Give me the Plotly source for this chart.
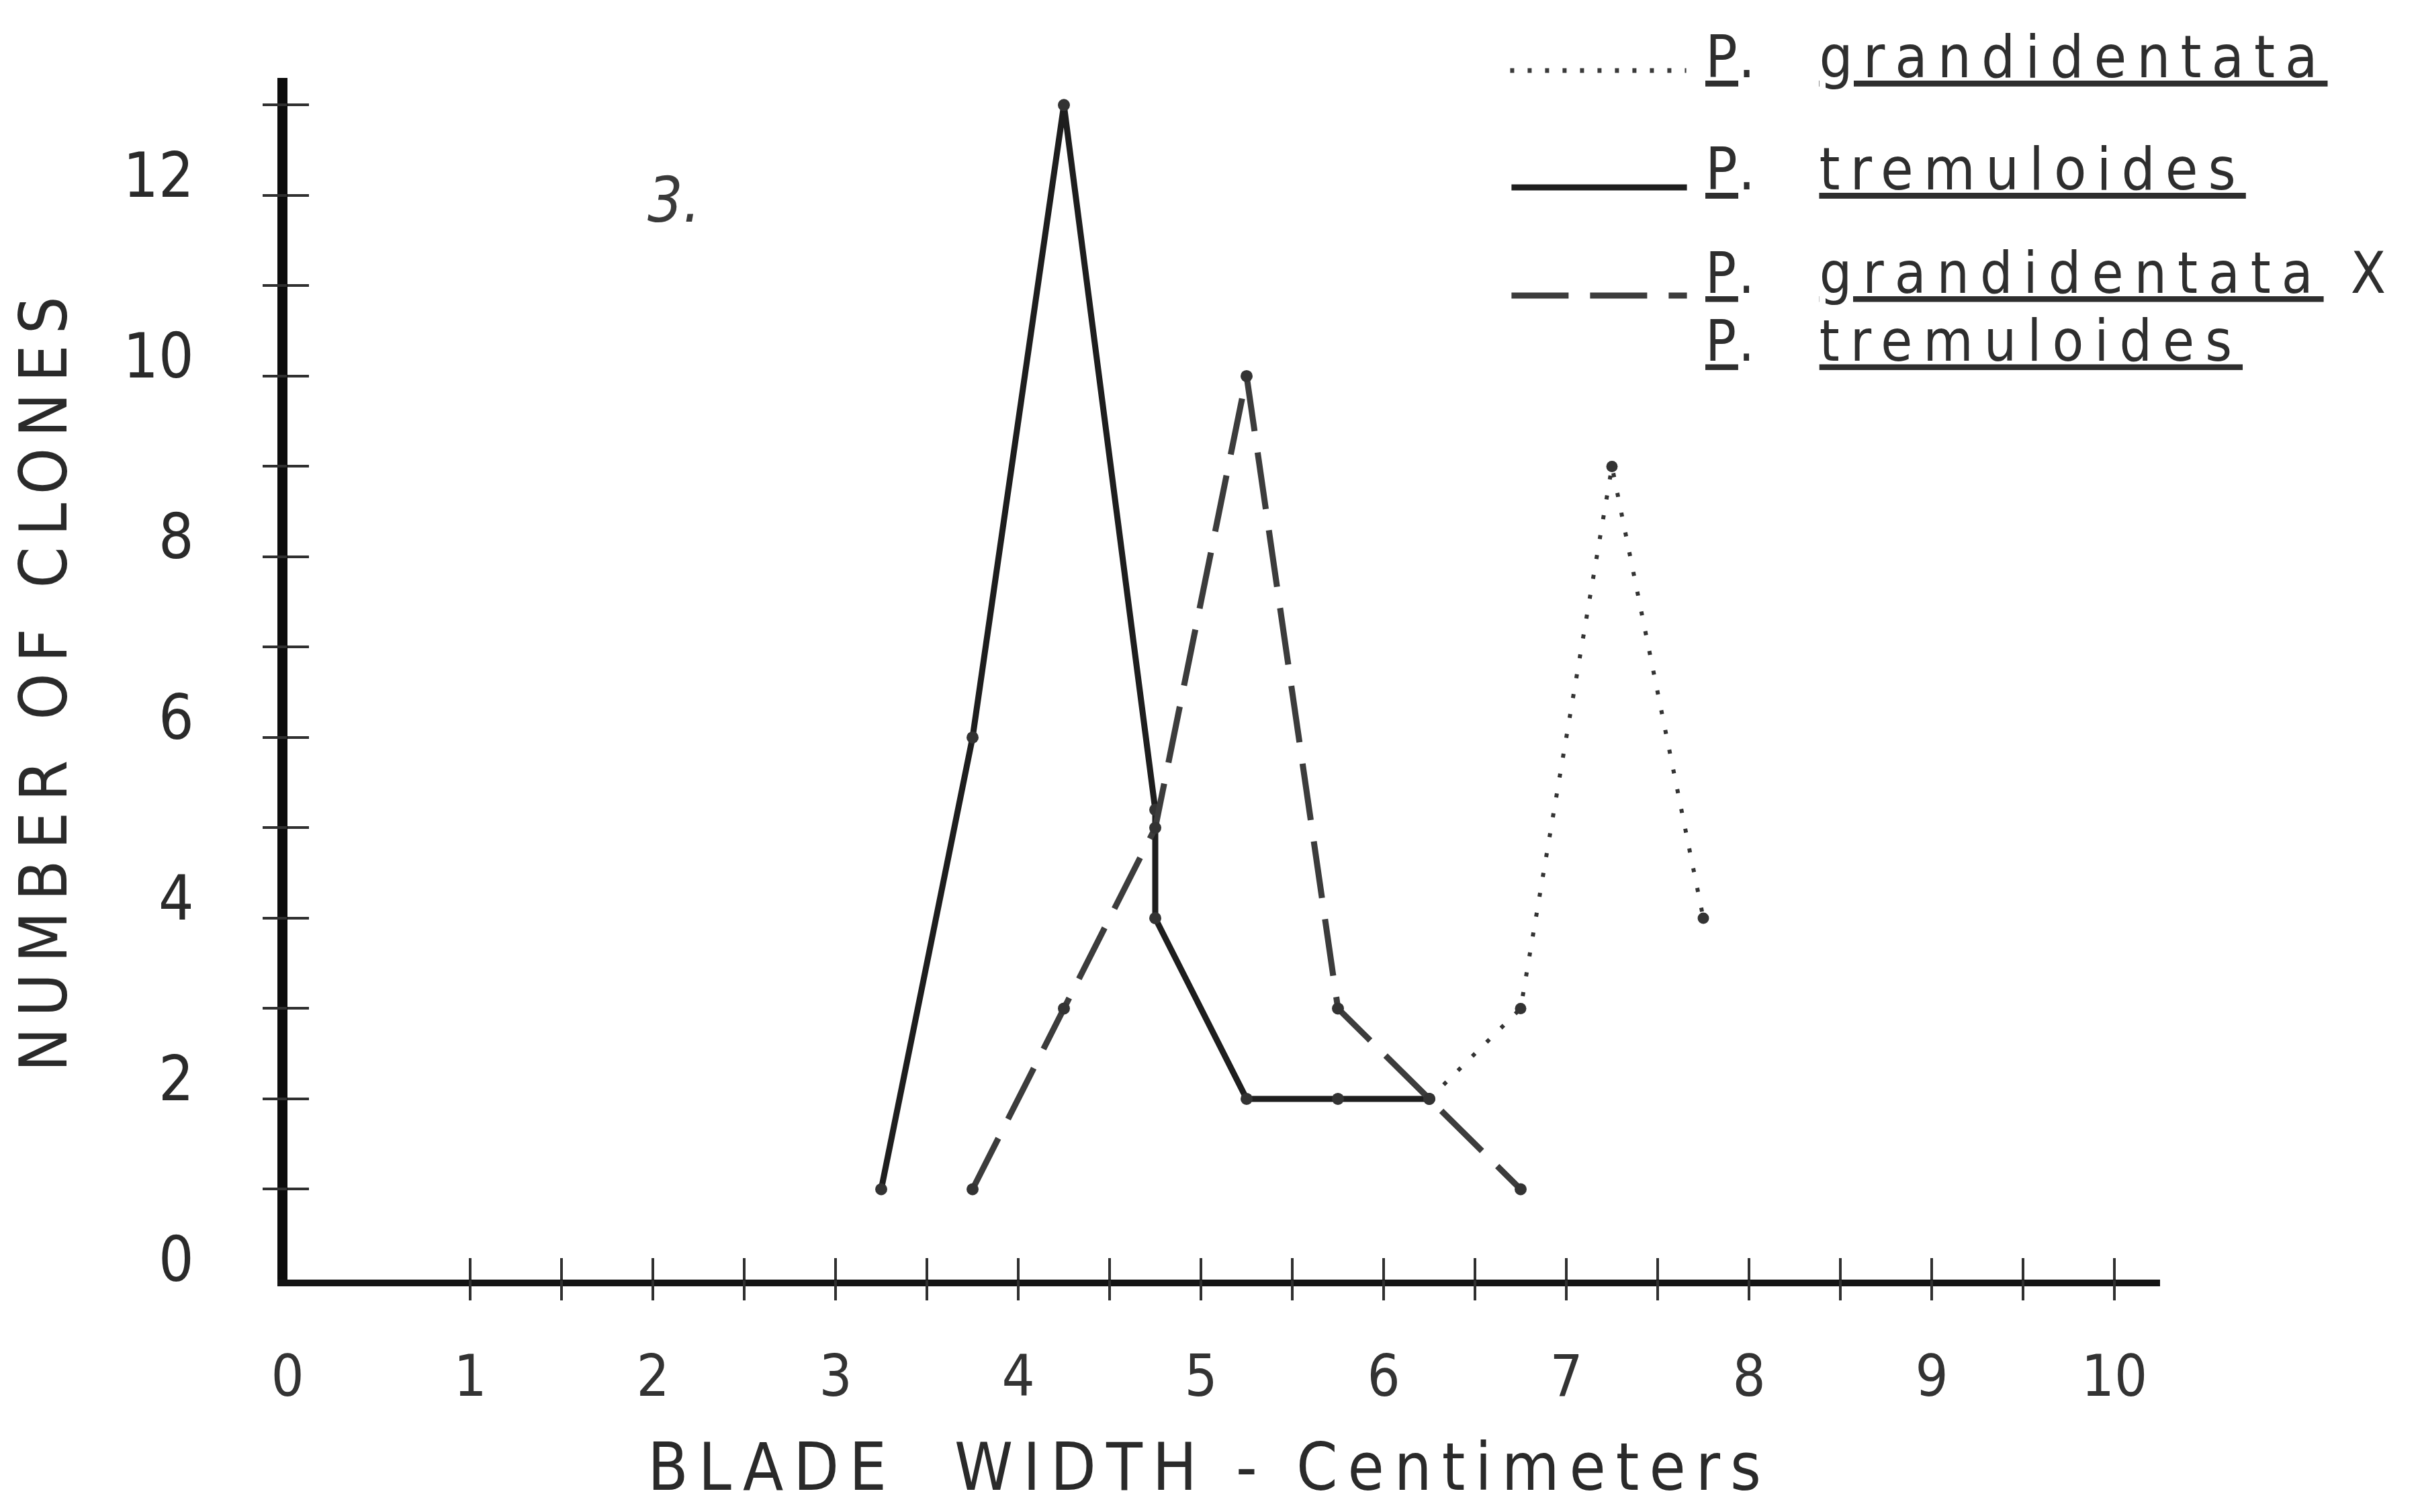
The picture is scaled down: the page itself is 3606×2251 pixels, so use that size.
import plotly.graph_objects as go

# ---------------- data ----------------
grandidentata_x = [6.25, 6.75, 7.25, 7.75]
grandidentata_y = [2, 3, 9, 4]

tremuloides_x = [3.25, 3.75, 4.25, 4.75, 4.75, 5.25, 5.75, 6.25]
tremuloides_y = [1, 6, 13, 5.2, 4, 2, 2, 2]

hybrid_x = [3.75, 4.25, 4.75, 5.25, 5.75, 6.25, 6.75]
hybrid_y = [1, 3, 5, 10, 3, 2, 1]

x_label_vals = [0, 1, 2, 3, 4, 5, 6, 7, 8, 9, 10]
x_label_text = ["0", "1", "2", "3", "4", "5", "6", "7", "8", "9", "10"]
x_tick_marks = [1, 1.5, 2, 2.5, 3, 3.5, 4, 4.5, 5, 5.5, 6, 6.5, 7, 7.5, 8, 8.5, 9, 9.5, 10]
y_label_vals = [0, 2, 4, 6, 8, 10, 12]
y_label_text = ["0", "2", "4", "6", "8", "10", "12"]
y_tick_marks = [1, 2, 3, 4, 5, 6, 7, 8, 9, 10, 11, 12, 13]

legend_line1 = "<u>P</u>.\u00a0\u00a0<u>grandidentata</u>"
legend_line2 = "<u>P</u>.\u00a0\u00a0<u>tremuloides</u>"
legend_line3 = ["<u>P</u>.\u00a0\u00a0<u>grandidentata</u> X", "<u>P</u>.\u00a0\u00a0<u>tremuloides</u>"]

# ---------------- geometry (pixels of the 3606x2251 page) ----------------
W, H = 3606, 2251
L, R, T, B = 390, 398, 108, 354
PW, PH = W - L - R, H - T - B
X_RANGE = [0, 10.25]
Y_RANGE = [0, 13.3]

def px(x):
    return (x - L) / PW

def py(y):
    return (H - B - y) / PH

FONT = "Liberation Sans Narrow, DejaVu Sans Condensed, Roboto Condensed, Lato, sans-serif"
INK = "#262626"

fig = go.Figure()

fig.add_trace(go.Scatter(
    x=grandidentata_x, y=grandidentata_y, mode="lines+markers",
    line=dict(color="#333333", width=6, dash="6px,24px"),
    marker=dict(color="#333333", size=17), name="P. grandidentata", showlegend=False))
fig.add_trace(go.Scatter(
    x=tremuloides_x, y=tremuloides_y, mode="lines+markers",
    line=dict(color="#1e1e1e", width=9),
    marker=dict(color="#333333", size=18), name="P. tremuloides", showlegend=False))
fig.add_trace(go.Scatter(
    x=hybrid_x, y=hybrid_y, mode="lines+markers",
    line=dict(color="#3c3c3c", width=9, dash="85px,32px"),
    marker=dict(color="#333333", size=18), name="P. grandidentata X P. tremuloides",
    showlegend=False))

# invisible traces for tick overlay axes
fig.add_trace(go.Scatter(x=[None], y=[None], xaxis="x2", yaxis="y2", showlegend=False))
fig.add_trace(go.Scatter(x=[None], y=[None], xaxis="x3", yaxis="y3", showlegend=False))

common = dict(showgrid=False, zeroline=False, fixedrange=True)

fig.update_layout(
    width=W, height=H, autosize=False,
    margin=dict(l=L, r=R, t=T, b=B, pad=0),
    paper_bgcolor="white", plot_bgcolor="white",
    font=dict(family=FONT, color=INK),
    xaxis=dict(range=X_RANGE, showline=True, linewidth=10, linecolor="#141414",
               ticks="", tickvals=x_label_vals, ticktext=x_label_text,
               tickfont=dict(size=86, color="#333333"), ticklabelstandoff=60,
               title=dict(text='<span style="letter-spacing:15px">BLADE\u00a0\u00a0WIDTH - Centimeters\u00a0</span>',
                          font=dict(size=98, color="#2a2a2a"), standoff=56),
               **common),
    yaxis=dict(range=Y_RANGE, showline=True, linewidth=15, linecolor="#0c0c0c",
               ticks="", tickvals=y_label_vals, ticktext=y_label_text,
               tickfont=dict(size=92, color="#2a2a2a"), ticklabelstandoff=106,
               ticklabelshift=-30,
               title=dict(text='<span style="letter-spacing:16px">NUMBER OF CLONES</span>',
                          font=dict(size=98, color="#2a2a2a"), standoff=95),
               **common),
    xaxis2=dict(range=X_RANGE, overlaying="x", anchor="y2", showline=False,
                ticks="outside", ticklen=30, tickwidth=4, tickcolor="#303030",
                tickvals=x_tick_marks, showticklabels=False, **common),
    yaxis2=dict(range=Y_RANGE, overlaying="y", anchor="x2", showline=False,
                ticks="outside", ticklen=36, tickwidth=4, tickcolor="#303030",
                tickvals=y_tick_marks, showticklabels=False, **common),
    xaxis3=dict(range=X_RANGE, overlaying="x", anchor="y3", showline=False,
                ticks="inside", ticklen=32, tickwidth=4, tickcolor="#303030",
                tickvals=x_tick_marks, showticklabels=False, **common),
    yaxis3=dict(range=Y_RANGE, overlaying="y", anchor="x3", showline=False,
                ticks="inside", ticklen=32, tickwidth=4, tickcolor="#303030",
                tickvals=y_tick_marks, showticklabels=False, **common),
)

# figure number
fig.add_annotation(x=px(972), y=py(290), xref="paper", yref="paper", text="<i>3.</i>",
                   xanchor="center", yanchor="middle",
                   showarrow=False, font=dict(size=92, color="#3a3a3a", family=FONT))

# legend samples
fig.add_shape(type="line", xref="paper", yref="paper", x0=px(2230), x1=px(2495),
              y0=py(97), y1=py(97), line=dict(color="#3a3a3a", width=7, dash="6px,20px"))
fig.add_shape(type="line", xref="paper", yref="paper", x0=px(2232), x1=px(2496),
              y0=py(271), y1=py(271), line=dict(color="#1e1e1e", width=9))
fig.add_shape(type="line", xref="paper", yref="paper", x0=px(2232), x1=px(2496),
              y0=py(432), y1=py(432), line=dict(color="#3c3c3c", width=9, dash="85px,32px"))

SPAN = '<span style="letter-spacing:15px;font-size:88px">'
fig.add_annotation(x=px(2522), y=py(76), xref="paper", yref="paper",
                   xanchor="left", yanchor="middle", showarrow=False,
                   text=SPAN + legend_line1 + "</span>",
                   font=dict(size=88, color="#2e2e2e", family=FONT))
fig.add_annotation(x=px(2522), y=py(244), xref="paper", yref="paper",
                   xanchor="left", yanchor="middle", showarrow=False,
                   text=SPAN + legend_line2 + "</span>",
                   font=dict(size=88, color="#2e2e2e", family=FONT))
# two-line entry: base font sets the (tight) line spacing, span sets glyph size
SPAN2 = '<span style="letter-spacing:16px;font-size:85px">'
fig.add_annotation(x=px(2522), y=py(449), xref="paper", yref="paper",
                   xanchor="left", yanchor="middle", showarrow=False, align="left",
                   text="<br>".join(SPAN2 + s + "</span>" for s in legend_line3),
                   font=dict(size=78, color="#2e2e2e", family=FONT))

fig.write_html("out.html")
